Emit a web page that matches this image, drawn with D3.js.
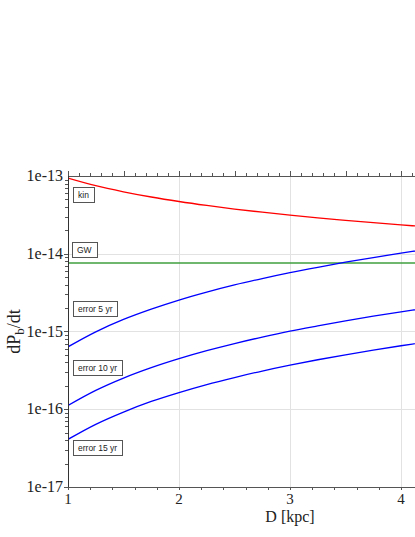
<!DOCTYPE html>
<html>
<head>
<meta charset="utf-8">
<script src="https://cdn.jsdelivr.net/npm/d3@7"></script>
<style>
  body { margin: 0; background: #fff; }
  svg { display: block; }
</style>
</head>
<body>
<div id="chart"></div>
<script>
// values
var distances = [1, 1.25, 1.5, 1.75, 2, 2.25, 2.5, 2.75, 3, 3.25, 3.5, 3.75, 4, 4.25]
var kin = [9.4e-14, 7.5e-14, 6.27e-14, 5.37e-14, 4.7e-14, 4.18e-14, 3.76e-14, 3.42e-14,
  3.13e-14, 2.89e-14, 2.69e-14, 2.51e-14, 2.35e-14, 2.21e-14]
var gw = [7.6e-15, 7.6e-15, 7.6e-15, 7.6e-15, 7.6e-15, 7.6e-15, 7.6e-15, 7.6e-15,
  7.6e-15, 7.6e-15, 7.6e-15, 7.6e-15, 7.6e-15, 7.6e-15]
var err5 = [6.35e-16, 9.9e-16, 1.43e-15, 1.94e-15, 2.54e-15, 3.21e-15, 3.97e-15, 4.8e-15,
  5.72e-15, 6.7e-15, 7.78e-15, 8.93e-15, 1.02e-14, 1.15e-14]
var err10 = [1.12e-16, 1.75e-16, 2.52e-16, 3.43e-16, 4.48e-16, 5.67e-16, 7.0e-16, 8.47e-16,
  1.01e-15, 1.18e-15, 1.37e-15, 1.575e-15, 1.79e-15, 2.02e-15]
var err15 = [4.1e-17, 6.4e-17, 9.2e-17, 1.26e-16, 1.64e-16, 2.08e-16, 2.56e-16, 3.1e-16,
  3.69e-16, 4.33e-16, 5.02e-16, 5.77e-16, 6.56e-16, 7.41e-16]
var yTicks = [1e-13, 1e-14, 1e-15, 1e-16, 1e-17]
var yTickLabels = ['1e-13', '1e-14', '1e-15', '1e-16', '1e-17']
var xTicks = [1, 2, 3, 4]

var series = [
  {name: 'kin', values: kin, color: '#ff0000'},
  {name: 'GW', values: gw, color: '#3f9f3f'},
  {name: 'error 5 yr', values: err5, color: '#0000ff'},
  {name: 'error 10 yr', values: err10, color: '#0000ff'},
  {name: 'error 15 yr', values: err15, color: '#0000ff'}
]
// label boxes: [x, y] of top-left corner
var boxes = [[73, 187], [72, 242], [73, 301], [73, 360], [73, 440]]

var width = 415
var height = 537
var plotLeft = 68
var plotTop = 176
var plotBottom = 487

var x = d3.scaleLinear().domain([1, 4]).range([plotLeft, 401])
var y = d3.scaleLog().domain([1e-17, 1e-13]).range([plotBottom, plotTop])

var svg = d3.select('#chart').append('svg')
  .attr('width', width)
  .attr('height', height)

svg.append('defs').append('clipPath').attr('id', 'clip')
  .append('rect')
  .attr('x', plotLeft).attr('y', plotTop)
  .attr('width', width - plotLeft).attr('height', plotBottom - plotTop)

// grid
var grid = svg.append('g').attr('stroke', '#e2e2e2').attr('stroke-width', 1)
xTicks.slice(1).forEach(function(d) {
  grid.append('line')
    .attr('x1', Math.round(x(d)) + 0.5).attr('x2', Math.round(x(d)) + 0.5)
    .attr('y1', plotTop).attr('y2', plotBottom)
})
yTicks.slice(1, 4).forEach(function(d) {
  grid.append('line')
    .attr('x1', plotLeft).attr('x2', width)
    .attr('y1', Math.round(y(d)) + 0.5).attr('y2', Math.round(y(d)) + 0.5)
})

// curves
var line = d3.line()
  .x(function(d) { return x(d[0]) })
  .y(function(d) { return y(d[1]) })
  .curve(d3.curveCatmullRom)

var plot = svg.append('g').attr('clip-path', 'url(#clip)')
series.forEach(function(s) {
  plot.append('path')
    .datum(distances.map(function(d, i) { return [d, s.values[i]] }))
    .attr('fill', 'none')
    .attr('stroke', s.color)
    .attr('stroke-width', 1.3)
    .attr('d', line)
})

// axes
var axisColor = '#555'
var xMinor = d3.range(1, 4.2, 0.1)
var xMinorBottom = d3.range(1, 4.2, 0.2)
var ax = svg.append('g').attr('stroke', axisColor).attr('stroke-width', 1)

ax.append('line').attr('x1', plotLeft).attr('x2', width).attr('y1', plotTop + 0.5).attr('y2', plotTop + 0.5)
ax.append('line').attr('x1', plotLeft).attr('x2', width).attr('y1', plotBottom + 0.5).attr('y2', plotBottom + 0.5)
ax.append('line').attr('x1', plotLeft + 0.5).attr('x2', plotLeft + 0.5).attr('y1', plotTop).attr('y2', plotBottom)
  .attr('stroke', '#333')

xMinor.forEach(function(d) {
  var big = Math.abs(d * 2 - Math.round(d * 2)) < 1e-6
  var px = Math.round(x(d)) + 0.5
  ax.append('line').attr('x1', px).attr('x2', px)
    .attr('y1', plotTop).attr('y2', plotTop - (big ? 5 : 3))
})
xMinorBottom.forEach(function(d) {
  var px = Math.round(x(d)) + 0.5
  ax.append('line').attr('x1', px).attr('x2', px)
    .attr('y1', plotBottom).attr('y2', plotBottom + 3)
})

// log minor ticks on the left
d3.range(-17, -13).forEach(function(e) {
  d3.range(1, 10).forEach(function(m) {
    var v = m * Math.pow(10, e)
    var py = Math.round(y(v)) + 0.5
    ax.append('line').attr('x1', plotLeft).attr('x2', plotLeft - (m === 1 ? 4 : 3))
      .attr('y1', py).attr('y2', py)
  })
})

svg.selectAll('.ylab')
  .data(yTicks)
  .enter().append('text')
  .attr('class', 'ylab')
  .attr('x', plotLeft - 5)
  .attr('y', function(d) { return y(d) + 5 })
  .attr('text-anchor', 'end')
  .attr('font-family', 'Liberation Serif')
  .attr('font-size', 16)
  .attr('fill', '#222')
  .text(function(d, i) { return yTickLabels[i] })

svg.selectAll('.xlab')
  .data(xTicks)
  .enter().append('text')
  .attr('class', 'xlab')
  .attr('x', function(d) { return x(d) })
  .attr('y', plotBottom + 17)
  .attr('text-anchor', 'middle')
  .attr('font-family', 'Liberation Serif')
  .attr('font-size', 15)
  .attr('fill', '#222')
  .text(function(d) { return d })

svg.append('text')
  .attr('x', 290).attr('y', 522)
  .attr('text-anchor', 'middle')
  .attr('font-family', 'Liberation Serif')
  .attr('font-size', 16)
  .attr('fill', '#222')
  .text('D [kpc]')

var yl = svg.append('text')
  .attr('transform', 'translate(20,' + ((plotTop + plotBottom) / 2) + ') rotate(-90)')
  .attr('text-anchor', 'middle')
  .attr('font-family', 'Liberation Serif')
  .attr('font-size', 18)
  .attr('fill', '#222')
yl.append('tspan').text('dP')
yl.append('tspan').attr('font-size', 13).attr('dy', 4).text('b')
yl.append('tspan').attr('dy', -4).text('/dt')

// series label boxes
series.forEach(function(s, i) {
  var g = svg.append('g').attr('transform', 'translate(' + boxes[i][0] + ',' + boxes[i][1] + ')')
  var t = g.append('text')
    .attr('x', 5).attr('y', 11)
    .attr('font-family', 'Liberation Sans')
    .attr('font-size', 8.5)
    .attr('fill', '#222')
    .text(s.name)
  var w = t.node().getComputedTextLength()
  g.insert('rect', 'text')
    .attr('x', 0.5).attr('y', 0.5)
    .attr('width', Math.round(w + 10)).attr('height', 15)
    .attr('fill', '#fff')
    .attr('stroke', '#555')
})
</script>
</body>
</html>
